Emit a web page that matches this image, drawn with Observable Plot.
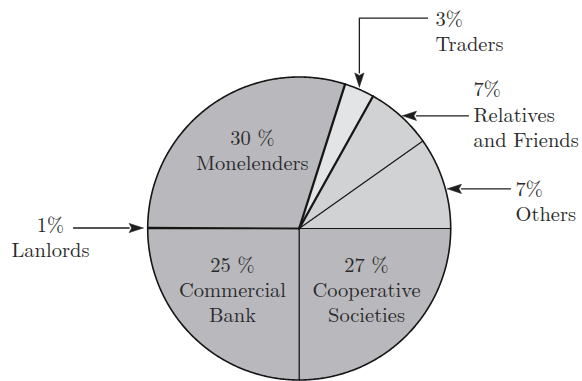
<!DOCTYPE html>
<html>
<head>
<meta charset="utf-8">
<script src="https://cdn.jsdelivr.net/npm/d3@7"></script>
<script src="https://cdn.jsdelivr.net/npm/@observablehq/plot@0.6"></script>
<style>
  html, body { margin: 0; padding: 0; background: #fff; }
</style>
</head>
<body>
<div id="chart"></div>
<script>
// ---------- data ----------
const names = ["Commercial Bank", "Lanlords", "Monelenders", "Traders", "Relatives and Friends", "Others", "Cooperative Societies"];
const pctLabels = ["25 %", "1%", "30 %", "3%", "7%", "7%", "27 %"];
const nameLabels = ["Commercial\nBank", "Lanlords", "Monelenders", "Traders", "Relatives\nand Friends", "Others", "Cooperative\nSocieties"];
// angular share of each slice as actually drawn (clockwise from the bottom)
const drawnShare = [25, 0.1, 29.8, 3.2, 7.1, 9.8, 25];
const shadeKey = ["mid", "mid", "mid", "pale", "light", "light", "mid"];

// ---------- styles / layout ----------
const shades = {mid: "#b9b9bd", light: "#d1d2d4", pale: "#e3e4e6"};
const edgeWidth = {"Commercial Bank": 1.3, "Lanlords": 1.4, "Monelenders": 1.4, "Traders": 2.3, "Relatives and Friends": 2.3, "Others": 1.2, "Cooperative Societies": 1.2};
const cx = 298.7, cy = 228, R = 151.5;              // pie placement in px
const toX = (px) => (px - cx) / R, toY = (py) => (cy - py) / R;
// label anchors (px): last-line baseline
const insideLabels = {
  "Monelenders": [252, 169.5],
  "Commercial Bank": [232, 321.5],
  "Cooperative Societies": [366, 321.5]
};
const calloutLayout = {
  "Traders":               {kind: "down",  frac: 0.5,  elbowY: 17.7, tailX: 427, label: [435, 50]},
  "Relatives and Friends": {kind: "left",  frac: 0.5,  tailX: 468, label: [473, 146]},
  "Others":                {kind: "left",  frac: 0.57, tailX: 510, label: [515, 220]},
  "Lanlords":              {kind: "right", frac: 0.5,  tailX: 73,  label: [50, 256.7], anchor: "middle"}
};

// ---------- geometry ----------
const arcs = d3.pie().sort(null).value(d => d).startAngle(Math.PI).endAngle(3 * Math.PI)(drawnShare);
const pt = (a, r = 1) => [r * Math.sin(a), r * Math.cos(a)];

const sliceRows = [];
arcs.forEach((s, i) => {
  const fill = shades[shadeKey[i]];
  const n = Math.max(2, Math.ceil((s.endAngle - s.startAngle) / (Math.PI / 360)));
  sliceRows.push({name: names[i], x: 0, y: 0, fill});
  for (let j = 0; j <= n; j++) {
    const [x, y] = pt(s.startAngle + (s.endAngle - s.startAngle) * j / n);
    sliceRows.push({name: names[i], x, y, fill});
  }
  sliceRows.push({name: names[i], x: 0, y: 0, fill});
});

const edges = arcs.map((s, i) => {
  const [x, y] = pt(s.startAngle);
  return {name: names[i], x, y, w: edgeWidth[names[i]]};
});

const circle = d3.range(0, 721).map(j => { const [x, y] = pt(j / 720 * 2 * Math.PI); return {x, y}; });

// callouts
const calloutLines = [], heads = [];
const HL = 14 / R, HW = 4.6 / R, NOTCH = 2.5 / R;
names.forEach((name, i) => {
  const L = calloutLayout[name];
  if (!L) return;
  const s = arcs[i];
  const a = s.startAngle + (s.endAngle - s.startAngle) * L.frac;
  const [ex, ey] = pt(a);
  let tip, dir, path;
  if (L.kind === "down") {
    tip = [ex, ey + 2.5 / R]; dir = [0, -1];
    const base = [tip[0], tip[1] + HL];
    path = [[toX(L.tailX), toY(L.elbowY)], [tip[0], toY(L.elbowY)], base];
  } else if (L.kind === "left") {
    tip = [ex + 2 / R, ey]; dir = [-1, 0];
    const base = [tip[0] + HL, tip[1]];
    path = [[toX(L.tailX), tip[1]], base];
  } else {
    tip = [ex - 4.5 / R, ey]; dir = [1, 0];
    const base = [tip[0] - HL, tip[1]];
    path = [[toX(L.tailX), tip[1]], base];
  }
  path.forEach(([x, y]) => calloutLines.push({name, x, y}));
  const nrm = [-dir[1], dir[0]];
  const b = [tip[0] - dir[0] * HL, tip[1] - dir[1] * HL];
  [
    tip,
    [b[0] + nrm[0] * HW, b[1] + nrm[1] * HW],
    [b[0] + dir[0] * NOTCH, b[1] + dir[1] * NOTCH],
    [b[0] - nrm[0] * HW, b[1] - nrm[1] * HW],
    tip
  ].forEach(([x, y]) => heads.push({name, x, y}));
});

const textMiddle = [], textStart = [];
names.forEach((name, i) => {
  const txt = pctLabels[i] + "\n" + nameLabels[i];
  if (insideLabels[name]) {
    const [x, y] = insideLabels[name];
    textMiddle.push({x: toX(x), y: toY(y), text: txt});
  } else if (calloutLayout[name]) {
    const L = calloutLayout[name];
    const row = {x: toX(L.label[0]), y: toY(L.label[1]), text: txt};
    (L.anchor === "middle" ? textMiddle : textStart).push(row);
  }
});

const ink = "#161616", textInk = "#2a2a2a";
const font = {fontFamily: "Latin Modern Roman", fontSize: 20.5, lineHeight: 1.22, lineAnchor: "bottom", fill: textInk};

const chart = Plot.plot({
  width: 582,
  height: 381,
  margin: 0,
  x: {domain: [-1, 1], range: [cx - R, cx + R], axis: null},
  y: {domain: [-1, 1], range: [cy + R, cy - R], axis: null},
  color: {type: "identity"},
  marks: [
    Plot.line(sliceRows, {x: "x", y: "y", z: "name", fill: "fill", stroke: "fill", strokeWidth: 0.5, curve: "linear"}),
    Plot.link(edges, {x1: 0, y1: 0, x2: "x", y2: "y", stroke: ink, strokeWidth: "w", strokeLinecap: "round"}),
    Plot.line(circle, {x: "x", y: "y", stroke: ink, strokeWidth: 1.6, curve: "linear"}),
    Plot.line(calloutLines, {x: "x", y: "y", z: "name", stroke: "#1e1e1e", strokeWidth: 1.3, curve: "linear"}),
    Plot.line(heads, {x: "x", y: "y", z: "name", fill: "#1e1e1e", stroke: "#1e1e1e", strokeWidth: 0.6, curve: "linear"}),
    Plot.text(textMiddle, {x: "x", y: "y", text: "text", textAnchor: "middle", ...font}),
    Plot.text(textStart, {x: "x", y: "y", text: "text", textAnchor: "start", ...font})
  ]
});
document.getElementById("chart").appendChild(chart);
</script>
</body>
</html>
